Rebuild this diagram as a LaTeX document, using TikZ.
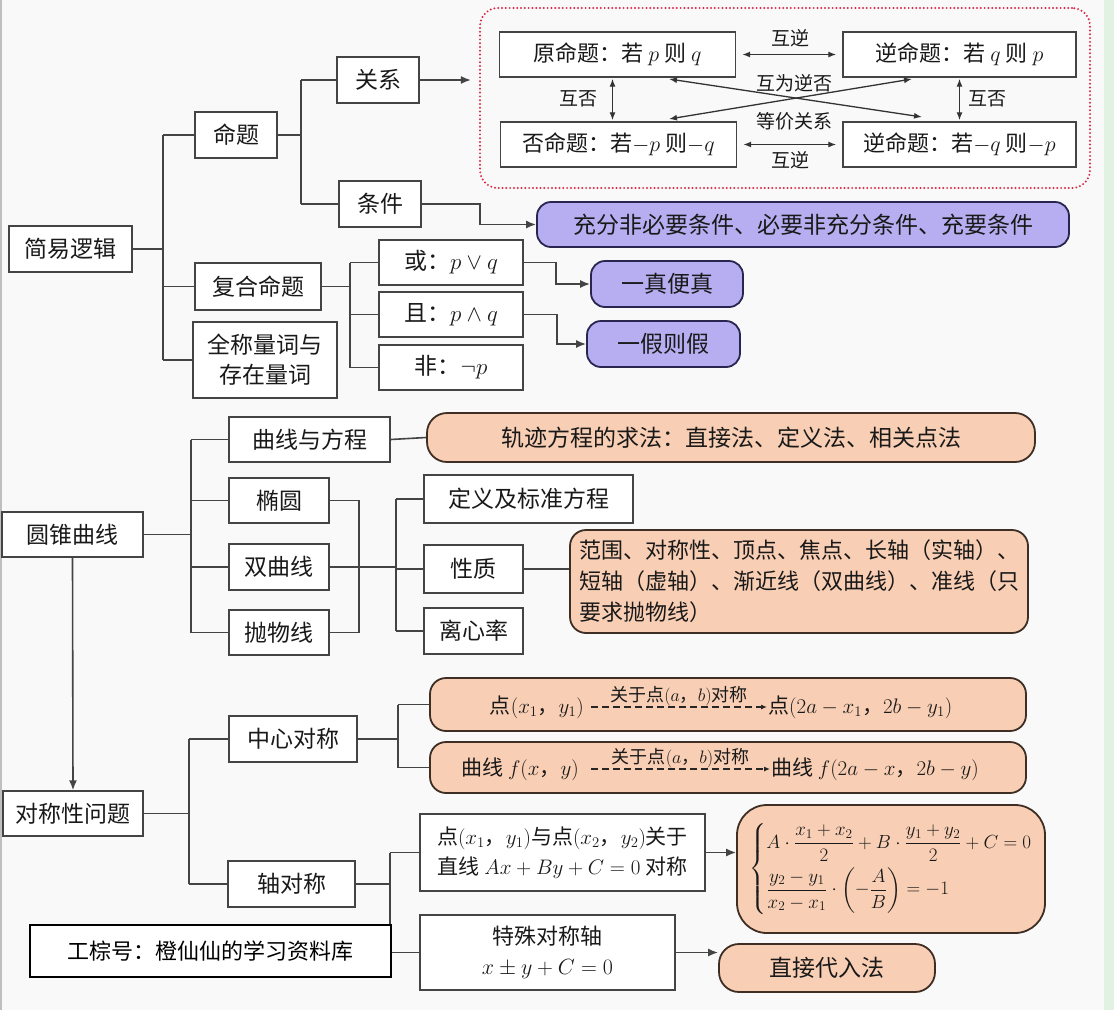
\RequirePackage{fix-cm}
\documentclass[tikz,border=0pt]{standalone}
\usepackage{amsmath, amssymb}
\usepackage{fontspec}
\setmainfont{Noto Sans CJK SC}
\usepackage{tikz}
\usetikzlibrary{arrows.meta, positioning, calc}
\definecolor{linegray}{RGB}{68,68,68}
\definecolor{bggray}{RGB}{249,249,249}
\definecolor{lavender}{RGB}{182,174,240}
\definecolor{darkviolet}{RGB}{40,38,80}
\definecolor{peach}{RGB}{248,206,180}
\definecolor{darkbrown}{RGB}{62,46,36}
\definecolor{dotred}{RGB}{218,42,72}
\definecolor{palegreen}{RGB}{226,242,226}

\tikzset{
  box/.style={draw=linegray, fill=white, line width=1.4pt, inner sep=0pt,
              minimum height=46pt, align=center, text=black!90,
              font=\fontsize{23}{30}\selectfont},
  relbox/.style={box, minimum width=236pt, minimum height=45pt,
                 font=\fontsize{22}{26}\selectfont},
  pbox/.style={box, draw=darkviolet, fill=lavender, rounded corners=14pt, line width=1.8pt},
  obox/.style={box, draw=darkbrown, fill=peach, rounded corners=16pt, line width=1.8pt},
  dotbox/.style={draw=dotred, line width=2.2pt, rounded corners=18pt, line cap=round,
                 dash pattern=on 0pt off 3.8pt, minimum width=610pt, minimum height=180pt},
  wmark/.style={draw=black, fill=white, line width=2pt, inner sep=0pt,
                minimum width=361pt, minimum height=52pt, font=\fontsize{22}{28}\selectfont},
  lbl/.style={inner sep=1pt, text=black!90, font=\fontsize{19}{22}\selectfont},
  txt/.style={inner sep=1pt, text=black!90, font=\fontsize{21}{25}\selectfont},
  link/.style={draw=linegray, line width=1.6pt},
  arr/.style={link, -{Latex[length=10pt,width=8pt]}},
  twoway/.style={draw=black!80, line width=1.3pt,
                 {Latex[length=8pt,width=6pt]}-{Latex[length=8pt,width=6pt]}},
  dasharr/.style={draw=black!85, line width=1.1pt, dash pattern=on 7pt off 4pt,
                  -{Latex[length=6pt,width=5pt]}}
}

\begin{document}
\begin{tikzpicture}[x=1pt, y=-1pt]
  \useasboundingbox (0,0) rectangle (1114,1010);
  % Background
  \fill[bggray] (0,0) rectangle (1114,1010);
  \fill[palegreen] (1104,0) rectangle (1114,1010);
  \draw[black!25, line width=1.5pt] (0.75,0) -- (0.75,1010);

  % ---------------- 简易逻辑 ----------------
  \node[box, minimum width=123pt] (jyl) at (70.5,249) {简易逻辑};
  \node[box, minimum width=82pt] (mt) at (236,135) {命题};
  \node[box, minimum width=126pt, minimum height=47pt] (fh) at (258,286.5) {复合命题};
  \node[box, minimum width=144pt, minimum height=76pt] (qc) at (265,360) {全称量词与\\存在量词};
  \node[box, minimum width=82pt] (gx) at (378,80) {关系};
  \node[box, minimum width=82pt] (tj) at (380,204) {条件};
  \node[box, minimum width=144pt, minimum height=45pt] (huo) at (451,262.5) {或：$p\vee q$};
  \node[box, minimum width=144pt, minimum height=45pt] (qie) at (451,314.5) {且：$p\wedge q$};
  \node[box, minimum width=144pt, minimum height=45pt] (fei) at (451,367.5) {非：$\neg p$};
  \node[pbox, minimum width=532pt, minimum height=45pt] (cf) at (803,224.5)
    {充分非必要条件、必要非充分条件、充要条件};
  \node[pbox, minimum width=152pt] (yzbz) at (667,284) {一真便真};
  \node[pbox, minimum width=153pt] (yjzj) at (663.5,344) {一假则假};

  % four propositions
  \node[dotbox] (rel) at (785,98) {};
  \node[relbox] (yuan) at (617.5,54.5) {原命题：若 $p$ 则 $q$};
  \node[relbox, minimum width=233pt] (niz) at (959.5,54.5) {逆命题：若 $q$ 则 $p$};
  \node[relbox] (fouz) at (618.5,144.5) {否命题：若$-p$ 则$-q$};
  \node[relbox, minimum width=233pt] (nifou) at (959.5,144.5) {逆命题：若$-q$ 则$-p$};
  \draw[twoway, shorten <=6pt, shorten >=6pt] (yuan.east) -- (niz.west);
  \draw[twoway, shorten <=6pt, shorten >=6pt] (fouz.east) -- (nifou.west);
  \draw[twoway, shorten <=1pt, shorten >=1pt] (yuan.south) ++(-5,0) -- ($(fouz.north)+(-6,0)$);
  \draw[twoway, shorten <=1pt, shorten >=1pt] (niz.south) -- (nifou.north);
  \coordinate (c1) at (669,79);
  \coordinate (c2) at (922,117);
  \coordinate (c3) at (912,79);
  \coordinate (c4) at (669,119);
  \draw[twoway] (c1) -- (c2);
  \draw[twoway] (c3) -- (c4);
  \node[lbl] (hn1) at (790,38) {互逆};
  \node[lbl] (hn2) at (790,160) {互逆};
  \node[lbl] (hf1) at (578,99) {互否};
  \node[lbl] (hf2) at (987,99) {互否};
  \node[lbl] (hwnf) at (794,83) {互为逆否};
  \node[lbl] (djgx) at (794,121) {等价关系};

  % branches
  \coordinate (jx) at (163,0);
  \draw[link] (jyl.east) -- (jyl.east -| jx);
  \draw[link] (mt.west -| jx) -- (qc.west -| jx);
  \foreach \n in {mt,fh,qc} \draw[link] (\n.west -| jx) -- (\n.west);
  \coordinate (mx) at (301,0);
  \draw[link] (mt.east) -- (mt.east -| mx);
  \draw[link] (gx.west -| mx) -- (tj.west -| mx);
  \foreach \n in {gx,tj} \draw[link] (\n.west -| mx) -- (\n.west);
  \coordinate (fx) at (350,0);
  \draw[link] (fh.east) -- (fh.east -| fx);
  \draw[link] (huo.west -| fx) -- (fei.west -| fx);
  \foreach \n in {huo,qie,fei} \draw[link] (\n.west -| fx) -- (\n.west);
  \draw[arr, shorten >=8pt] (gx.east) -- (gx.east -| rel.west);
  \draw[arr] (tj.east) -- ++(58,0) |- (cf.west);
  \draw[arr] (huo.east) -- ++(32,0) |- (yzbz.west);
  \draw[arr] (qie.east) -- ++(33,0) |- (yjzj.west);

  % ---------------- 圆锥曲线 ----------------
  \node[box, minimum width=141pt, minimum height=45pt] (yzqx) at (72.5,534.5) {圆锥曲线};
  \node[box, minimum width=161pt, minimum height=45pt] (qx) at (309.5,439.5) {曲线与方程};
  \node[box, minimum width=100pt, minimum height=45pt] (ty) at (279,500.5) {椭圆};
  \node[box, minimum width=100pt] (sq) at (279,567) {双曲线};
  \node[box, minimum width=100pt, minimum height=45pt] (pw) at (279,632.5) {抛物线};
  \node[box, minimum width=209pt, minimum height=48pt] (dy) at (528.5,499) {定义及标准方程};
  \node[box, minimum width=99pt, minimum height=48pt] (xz) at (473.5,569) {性质};
  \node[box, minimum width=99pt] (lx) at (473.5,631) {离心率};
  \node[obox, minimum width=608pt, minimum height=49pt, rounded corners=20pt] (gj) at (731,437.5)
    {轨迹方程的求法：直接法、定义法、相关点法};
  \node[obox, minimum width=458pt, minimum height=103pt, align=left,
        font=\fontsize{22}{31}\selectfont] (fw) at (799,581.5)
    {范围、对称性、顶点、焦点、长轴（实轴）、\\短轴（虚轴）、渐近线（双曲线）、准线（只\\要求抛物线）};

  \coordinate (yx) at (191,0);
  \draw[link] (yzqx.east) -- (yzqx.east -| yx);
  \draw[link] (qx.west -| yx) -- (pw.west -| yx);
  \foreach \n in {qx,ty,sq,pw} \draw[link] (\n.west -| yx) -- (\n.west);
  \draw[link] (qx.east) -- (gj.west);
  \coordinate (bx) at (359,0);
  \draw[link] (ty.east) -| (bx |- pw.east) -- (pw.east);
  \coordinate (dx) at (396,0);
  \draw[link] (sq.east) -- (sq.east -| dx);
  \draw[link] (dy.west -| dx) -- (lx.west -| dx);
  \foreach \n in {dy,xz,lx} \draw[link] (\n.west -| dx) -- (\n.west);
  \draw[link] (xz.east) -- (xz.east -| fw.west);

  % ---------------- 对称性问题 ----------------
  \node[box, minimum width=140pt, minimum height=45pt] (dc) at (73,813.5) {对称性问题};
  \draw[arr] (yzqx.south) -- (dc.north);
  \node[box, minimum width=128pt] (zx) at (293,739) {中心对称};
  \node[box, minimum width=127pt] (zd) at (291.5,884) {轴对称};
  \node[obox, minimum width=596pt, minimum height=53pt] (dd) at (728,704.5) {};
  \node[obox, minimum width=596pt, minimum height=51pt] (qq) at (728,767.5) {};
  \node[txt, anchor=east] (pa1) at (585,707) {点$(x_1$，$y_1)$};
  \node[txt, anchor=west] (pb1) at (767,707) {点$(2a-x_1$，$2b-y_1)$};
  \draw[dasharr] ([xshift=6pt]pa1.east) -- (pb1.west)
    node[midway, above=-1pt, lbl, font=\fontsize{18}{20}\selectfont] (gy1) {关于点$(a$，$b)$对称};
  \node[txt, anchor=east] (pa2) at (580,769) {曲线 $f(x$，$y)$};
  \node[txt, anchor=west] (pb2) at (770,769) {曲线 $f(2a-x$，$2b-y)$};
  \draw[dasharr] ([xshift=11pt]pa2.east) -- (pb2.west)
    node[midway, above=-1pt, lbl, font=\fontsize{18}{20}\selectfont] (gy2) {关于点$(a$，$b)$对称};
  \node[box, minimum width=285pt, minimum height=77pt, font=\fontsize{21}{30}\selectfont] (dz) at (562.5,852.5)
    {点$(x_1$，$y_1)$与点$(x_2$，$y_2)$关于\\直线 $Ax+By+C=0$ 对称};
  \node[box, minimum width=255pt, minimum height=75pt, font=\fontsize{22}{30}\selectfont] (ts) at (547.5,952.5)
    {特殊对称轴\\$x\pm y+C=0$};
  \node[obox, minimum width=308pt, minimum height=128pt, rounded corners=30pt,
        font=\fontsize{19}{23}\selectfont] (fm) at (891,869)
    {$\left\{\begin{array}{@{}l@{}}
      A\cdot\dfrac{x_1+x_2}{2}+B\cdot\dfrac{y_1+y_2}{2}+C=0\\[12pt]
      \dfrac{y_2-y_1}{x_2-x_1}\cdot\left(-\dfrac{A}{B}\right)=-1
     \end{array}\right.$};
  \node[obox, minimum width=216pt, minimum height=48pt, rounded corners=20pt] (zr) at (827,968) {直接代入法};

  \coordinate (sx) at (189,0);
  \draw[link] (dc.east) -- (dc.east -| sx);
  \draw[link] (zx.west -| sx) -- (zd.west -| sx);
  \foreach \n in {zx,zd} \draw[link] (\n.west -| sx) -- (\n.west);
  \coordinate (zxx) at (398,0);
  \draw[link] (zx.east) -- (zx.east -| zxx);
  \draw[link] (dd.west -| zxx) -- (qq.west -| zxx);
  \foreach \n in {dd,qq} \draw[link] (\n.west -| zxx) -- (\n.west);
  \coordinate (zdx) at (390,0);
  \draw[link] (zd.east) -- (zd.east -| zdx);
  \draw[link] (dz.west -| zdx) -- (ts.west -| zdx);
  \foreach \n in {dz,ts} \draw[link] (\n.west -| zdx) -- (\n.west);
  \draw[arr] (dz.east) -- (dz.east -| fm.west);
  \draw[arr] (ts.east) -- (ts.east -| zr.west);

  % watermark
  \node[wmark] (gzh) at (210.5,951) {工棕号：橙仙仙的学习资料库};
\end{tikzpicture}
\end{document}
